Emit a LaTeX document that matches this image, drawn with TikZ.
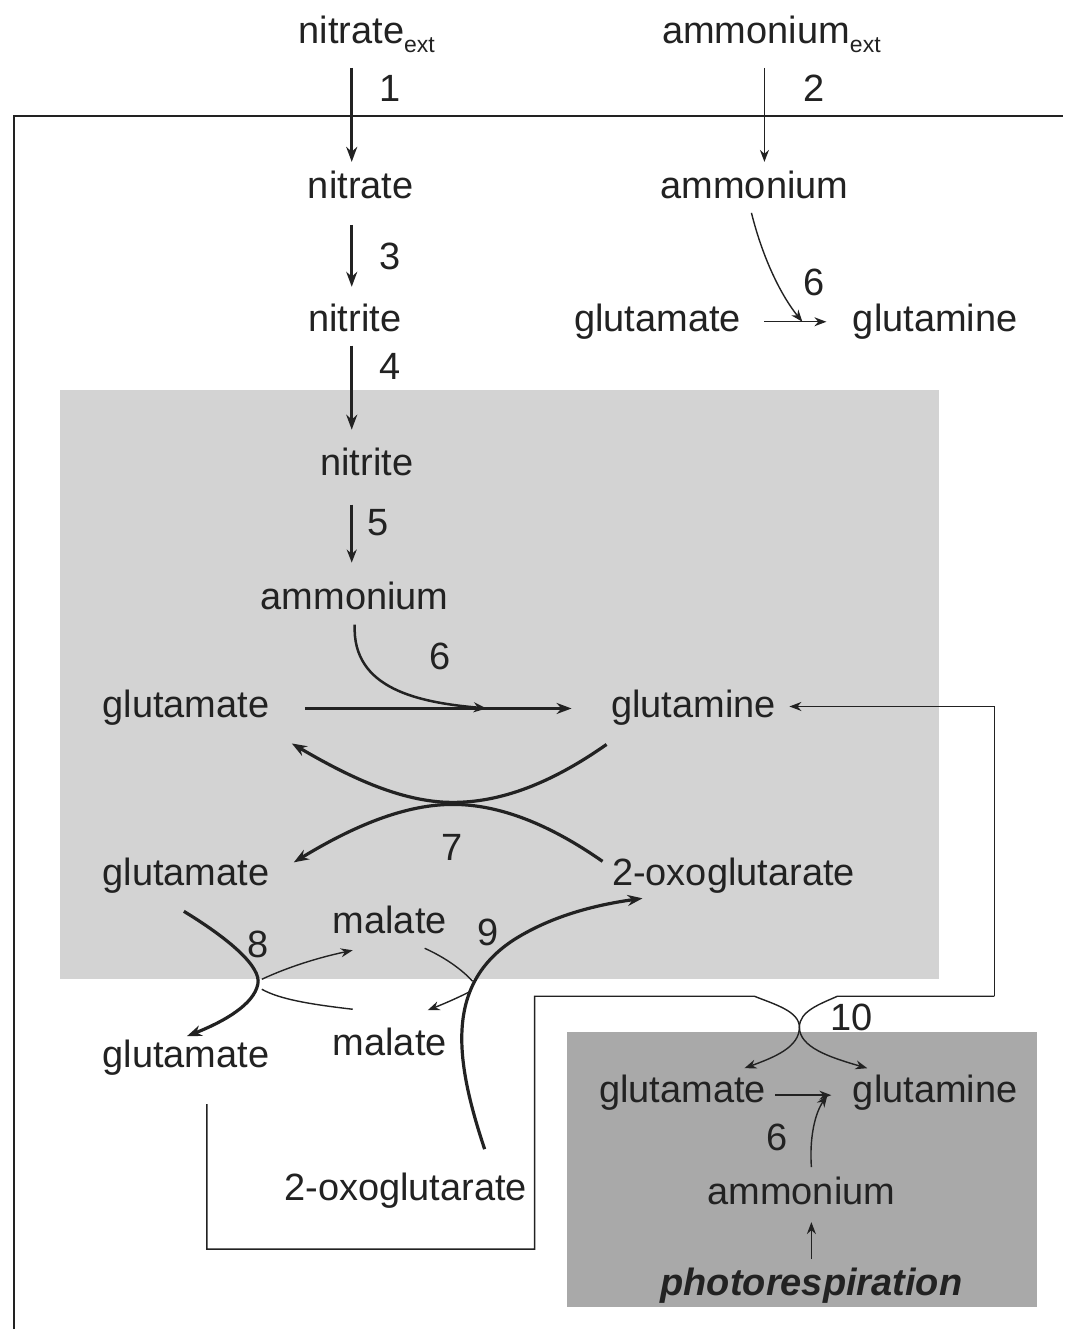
\documentclass[tikz,border=0pt]{standalone}
\usepackage{fontspec}
\setmainfont{Liberation Sans}
\usetikzlibrary{arrows.meta}
\definecolor{lightbox}{HTML}{D3D3D3}
\definecolor{darkbox}{HTML}{A9A9A9}
\definecolor{ink}{HTML}{222222}
\begin{document}
\begin{tikzpicture}[x=1pt,y=-1pt,
  lbl/.style={inner sep=0pt,yshift=-4pt,text height=27pt,text depth=8pt,font=\fontsize{38}{44}\selectfont,text=ink},
  num/.style={lbl},
  thick arrow/.style={line width=3.2pt,draw=ink,-{Stealth[length=15pt,width=11pt]}},
  med arrow/.style={line width=2.5pt,draw=ink,-{Stealth[length=13pt,width=10pt]}},
  thin arrow/.style={line width=1.4pt,draw=ink,-{Stealth[length=12pt,width=9pt]}},
  thickline/.style={line width=3.2pt,draw=ink},
  thinline/.style={line width=1.4pt,draw=ink}]
\fill[white] (0,0) rectangle (1064,1330);
\fill[lightbox] (60,390) rectangle (940,980);
\fill[darkbox] (567,1033) rectangle (1038,1308);
% cell boundary
\coordinate (ctl) at (14,116);
\coordinate (ctr) at (1064,116);
\coordinate (cbl) at (14,1330);
\draw[line width=2pt,ink] (cbl) -- (ctl) -- (ctr);
% nodes
\node[lbl] (nitext) at (367,30) {nitrate\raisebox{-9pt}{\fontsize{23}{23}\selectfont ext}};
\node[lbl] (ammext) at (772,30) {ammonium\raisebox{-9pt}{\fontsize{23}{23}\selectfont ext}};
\node[lbl] (nitrate) at (361,185) {nitrate};
\node[lbl] (amm1) at (755,185) {ammonium};
\node[lbl] (nitrite1) at (355,318) {nitrite};
\node[lbl] (glu1) at (658,318) {glutamate};
\node[lbl] (gln1) at (936,318) {glutamine};
\node[lbl] (nitrite2) at (367,462) {nitrite};
\node[lbl] (amm2) at (355,596) {ammonium};
\node[lbl] (glu2) at (186,705) {glutamate};
\node[lbl] (gln2) at (694,705) {glutamine};
\node[lbl] (glu3) at (186,873) {glutamate};
\node[lbl] (oxo1) at (734,873) {2-oxoglutarate};
\node[lbl] (mal1) at (390,921) {malate};
\node[lbl] (mal2) at (390,1043) {malate};
\node[lbl] (glu4) at (186,1055) {glutamate};
\node[lbl] (oxo2) at (406,1188) {2-oxoglutarate};
\node[lbl] (glu5) at (683,1090) {glutamate};
\node[lbl] (gln5) at (936,1090) {glutamine};
\node[lbl] (amm5) at (802,1192) {ammonium};
\node[lbl,font=\fontsize{38}{44}\selectfont\bfseries\itshape] (photo) at (812,1283) {photorespiration};
% numbers
\node[num] (n1) at (390,88) {1};
\node[num] (n2) at (815,88) {2};
\node[num] (n3) at (390,256) {3};
\node[num] (n4) at (390,366) {4};
\node[num] (n6a) at (815,282) {6};
\node[num] (n5) at (378,522) {5};
\node[num] (n6b) at (440,656) {6};
\node[num] (n7) at (452,848) {7};
\node[num] (n8) at (258,945) {8};
\node[num] (n9) at (488,933) {9};
\node[num] (n10) at (852,1018) {10};
\node[num] (n6c) at (778,1138) {6};
% vertical arrows
\draw[thick arrow] (352,68) -- (352,162);
\draw[thin arrow] (765,68) -- (765,162);
\draw[thick arrow] (352,225) -- (352,287);
\draw[thick arrow] (352,346) -- (352,430);
\draw[med arrow] (352,505) -- (352,563);
% top-right reaction 6
\draw[thin arrow] (765,322) -- (827,322);
\draw[thin arrow] (752,213) .. controls (765,265) and (785,300) .. (803,322);
% main reaction 6
\draw[thick arrow] (305,709) -- (572,709);
\draw[med arrow] (355,625) .. controls (352,690) and (420,703) .. (487,709);
% reaction 7
\draw[thick arrow] (607,745) .. controls (550,785) and (500,803) .. (453,803) .. controls (400,803) and (345,775) .. (292,744);
\draw[thick arrow] (603,862) .. controls (550,825) and (500,805) .. (453,805) .. controls (400,805) and (345,832) .. (294,863);
% reaction 8
\draw[thick arrow] (184,912) .. controls (230,940) and (262,968) .. (258,985) .. controls (254,1005) and (225,1022) .. (187,1037);
\draw[thin arrow] (262,980) .. controls (290,967) and (320,958) .. (353,951);
\draw[thinline] (353,1010) .. controls (310,1005) and (280,1000) .. (262,990);
% reaction 9
\draw[thick arrow] (485,1150) .. controls (455,1060) and (445,985) .. (515,940) .. controls (555,915) and (600,905) .. (643,899);
\draw[thinline] (425,949) .. controls (445,958) and (462,970) .. (473,982);
\draw[thin arrow] (469,993) .. controls (455,1000) and (443,1005) .. (428,1011);
% transport 10
\draw[thin arrow] (207,1105) -- (207,1250) -- (535,1250) -- (535,997) -- (755,997)
  .. controls (775,1005) and (800,1012) .. (800,1028)
  .. controls (800,1048) and (775,1058) .. (745,1069);
\draw[thin arrow] (995,997) -- (995,707) -- (790,707);
\draw[thin arrow] (995,997) -- (838,997)
  .. controls (820,1005) and (800,1012) .. (800,1028)
  .. controls (800,1048) and (830,1058) .. (868,1069);
% dark box reaction 6
\draw[thin arrow] (776,1096) -- (832,1096);
\draw[thin arrow] (812,1168) .. controls (810,1140) and (815,1115) .. (828,1096);
\draw[thin arrow] (812,1260) -- (812,1223);
\end{tikzpicture}
\end{document}
